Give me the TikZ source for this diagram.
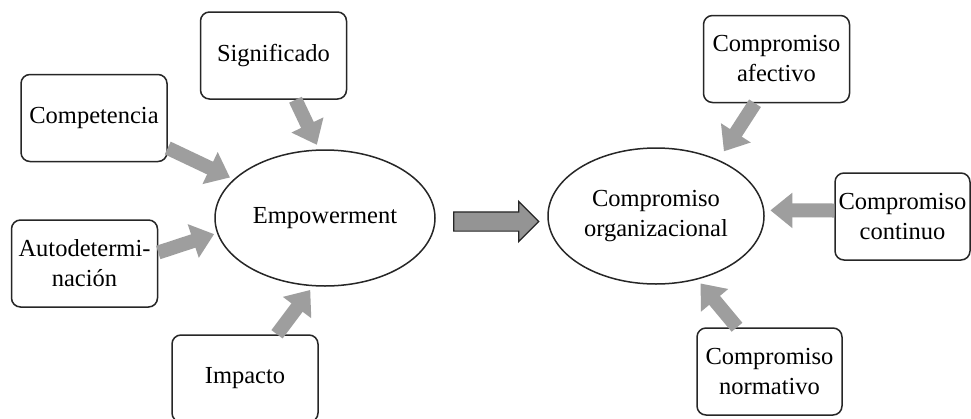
\documentclass[tikz,border=0pt]{standalone}
\usepackage{fontspec}
\setmainfont{Liberation Serif}
\usetikzlibrary{arrows.meta,shapes.arrows,shapes.geometric,calc}
\begin{document}
\begin{tikzpicture}[x=1pt,y=-1pt,
  txt/.style={align=center, font=\fontsize{24.5}{30}\selectfont, inner sep=0pt},
  box/.style={txt, draw=black!85, line width=1.5pt, rounded corners=9pt, fill=white, minimum width=146pt, minimum height=87pt},
  oval/.style={txt, draw=black!85, line width=1.5pt, ellipse, fill=white},
  garrow/.style={draw=black!38, line width=14pt, -{Triangle[width=34pt,length=22pt]}},
  bigarrow/.style={single arrow, draw=black!85, fill=black!42, line width=1.2pt, minimum height=85pt, inner xsep=0pt, inner ysep=9pt, single arrow head extend=10.5pt}
]
\useasboundingbox (0,0) rectangle (971,418);
\clip (0,0) rectangle (971,418);
\fill[white] (0,0) rectangle (971,418);
% left side
\node[box] (sig) at (273.5,55.5) {Significado};
\node[box] (comp) at (94,118) {Competencia};
\node[box] (auto) at (84.5,263.5) {Autodetermi-\\nación};
\node[box] (imp) at (245,378.5) {Impacto};
\node[oval, minimum width=220pt, minimum height=136pt] (emp) at (325,218) {Empowerment};
% right side
\node[oval, minimum width=216pt, minimum height=136pt] (org) at (656,216) {Compromiso\\organizacional};
\node[box] (afec) at (776.5,59) {Compromiso\\afectivo};
\node[box, minimum width=135pt] (cont) at (902.5,216.5) {Compromiso\\continuo};
\node[box, minimum width=145pt] (norm) at (769.5,371.5) {Compromiso\\normativo};
% connectors
\draw[garrow, shorten >=5pt] ([xshift=22pt]sig.south) -- (emp.95);
\draw[garrow, shorten >=4pt] ([yshift=-30pt]comp.east) -- (emp.157);
\draw[garrow, shorten >=3pt] ([yshift=11pt]auto.east) -- (emp.188);
\draw[garrow, shorten >=4.5pt] ([xshift=32pt]imp.north) -- (emp.260);
\draw[garrow, shorten >=10pt] ([xshift=-21.5pt]afec.south) -- (org.42);
\draw[garrow, shorten >=6pt] ([yshift=6pt]cont.west) -- (org.3);
\draw[garrow, shorten >=5pt] ([xshift=-32.5pt]norm.north) -- (org.303);
\node[bigarrow] (mid) at ($(emp.east)!0.5!(org.west)+(0,4.5)$) {};
\end{tikzpicture}
\end{document}
